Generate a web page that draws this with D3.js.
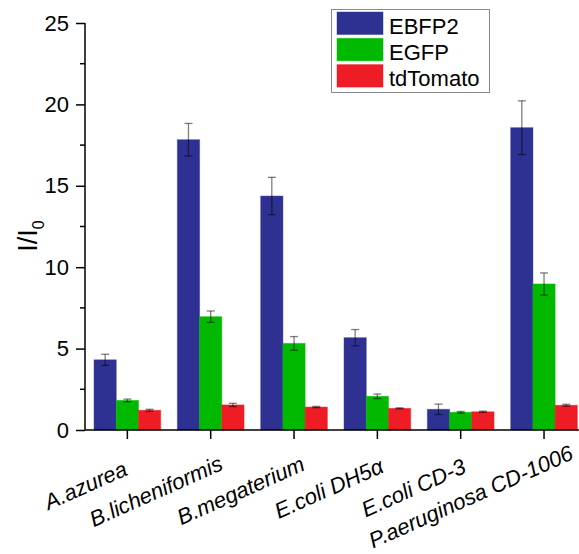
<!DOCTYPE html>
<html>
<head>
<meta charset="utf-8">
<script src="https://cdn.jsdelivr.net/npm/d3@7"></script>
<style>
  html, body { margin: 0; padding: 0; background: #fff; }
  svg { display: block; font-family: "Liberation Sans", Arial, sans-serif; }
</style>
</head>
<body>
<svg id="chart" width="579" height="554"></svg>
<script>
// Strains along the x axis
const strains = ["A.azurea", "B.licheniformis", "B.megaterium", "E.coli DH5\u03b1", "E.coli CD-3", "P.aeruginosa CD-1006"];
// Fluorescent proteins (series)
const proteins = ["EBFP2", "EGFP", "tdTomato"];
const proteinColors = ["#2e3192", "#00b900", "#ee1c25"];
// Mean I/I0 per strain, one array per protein
const ebfp2Values = [4.31, 17.83, 14.37, 5.67, 1.27, 18.57];
const egfpValues = [1.82, 6.96, 5.32, 2.07, 1.09, 8.97];
const tdTomatoValues = [1.21, 1.54, 1.41, 1.33, 1.12, 1.52];
// Standard deviations
const ebfp2Errors = [0.34, 1.0, 1.15, 0.5, 0.32, 1.65];
const egfpErrors = [0.08, 0.35, 0.42, 0.14, 0.05, 0.68];
const tdTomatoErrors = [0.06, 0.1, 0.04, 0.03, 0.04, 0.06];
// Y axis ticks
const yMajorTicks = [0, 5, 10, 15, 20, 25];
const yMinorTicks = [2.5, 7.5, 12.5, 17.5, 22.5];

const seriesValues = [ebfp2Values, egfpValues, tdTomatoValues];
const seriesErrors = [ebfp2Errors, egfpErrors, tdTomatoErrors];

const W = 579, H = 554;
const svg = d3.select("#chart");

const x = d3.scaleBand().domain(strains).range([85.7, 585.7]).paddingInner(0.2).paddingOuter(0.1);
const xSub = d3.scaleBand().domain(proteins).range([0, x.bandwidth()]).padding(0);
const y = d3.scaleLinear().domain([0, 25]).range([430, 23]);

const records = [];
strains.forEach((s, i) => {
  proteins.forEach((p, j) => {
    records.push({ strain: s, protein: p, color: proteinColors[j], value: seriesValues[j][i], err: seriesErrors[j][i] });
  });
});

// Bars
const barG = svg.append("g");
barG.selectAll("rect").data(records).join("rect")
  .attr("x", d => x(d.strain) + xSub(d.protein))
  .attr("y", d => y(d.value))
  .attr("width", xSub.bandwidth())
  .attr("height", d => y(0) - y(d.value))
  .attr("fill", d => d.color)
  .attr("stroke", d => d.color)
  .attr("stroke-opacity", 0.45)
  .attr("stroke-width", 1);

// Error bars
const errG = svg.append("g").attr("stroke", "#000").attr("stroke-opacity", 0.5).attr("stroke-width", 1.3);
const capHalf = 4;
records.forEach(d => {
  const cx = x(d.strain) + xSub(d.protein) + xSub.bandwidth() / 2;
  const y1 = y(d.value + d.err), y2 = y(d.value - d.err);
  errG.append("line").attr("x1", cx).attr("x2", cx).attr("y1", y1).attr("y2", y2);
  errG.append("line").attr("x1", cx - capHalf).attr("x2", cx + capHalf).attr("y1", y1).attr("y2", y1);
  errG.append("line").attr("x1", cx - capHalf).attr("x2", cx + capHalf).attr("y1", y2).attr("y2", y2);
});

// Y axis
const yAxis = svg.append("g").attr("transform", "translate(85,0)");
yAxis.call(d3.axisLeft(y).tickValues(yMajorTicks).tickSize(9).tickPadding(7).tickFormat(d3.format("d")));
yAxis.selectAll(".tick text").attr("font-size", 22).attr("fill", "#000").attr("font-family", "Liberation Sans, Arial, sans-serif");
yAxis.select(".domain").attr("d", `M0,${y(25)}V${y(0)}`);
yAxis.selectAll("path, line").attr("stroke", "#000").attr("stroke-width", 1.5);
yAxis.selectAll(".minor").data(yMinorTicks).join("line").attr("class", "minor")
  .attr("x1", -5).attr("x2", 0).attr("y1", d => y(d)).attr("y2", d => y(d))
  .attr("stroke", "#000").attr("stroke-width", 1.5);

// X axis
const xAxis = svg.append("g").attr("transform", `translate(0,${y(0)})`);
xAxis.call(d3.axisBottom(x).tickSize(9).tickSizeOuter(0).tickFormat(""));
xAxis.select(".domain").attr("d", `M85,0H${x.range()[1]}`);
xAxis.selectAll("path, line").attr("stroke", "#000").attr("stroke-width", 1.5);

// Rotated strain labels, kept inside the canvas
const angle = 24;
const rad = angle * Math.PI / 180;
const labelG = svg.append("g").attr("font-size", 22).attr("font-style", "italic").attr("fill", "#000");
strains.forEach(s => {
  const t = labelG.append("text").attr("text-anchor", "end").text(s);
  const L = t.node().getComputedTextLength();
  const k = 0.24 * L;
  let ex = x(s) + x.bandwidth() / 2 - 17.7 + k * Math.cos(rad);
  let ey = y(0) + 53 - k * Math.sin(rad);
  t.attr("transform", `translate(${ex},${ey}) rotate(${-angle})`);
  const box = t.node().getBoundingClientRect();
  const overX = box.right - (W - 1);
  const overY = box.bottom - (H - 1);
  if (overX > 0) ex -= overX;
  if (overY > 0) ey -= overY;
  t.attr("transform", `translate(${ex},${ey}) rotate(${-angle})`);
});

// Y axis title
const yTitle = svg.append("text")
  .attr("transform", "translate(37,236) rotate(-90)")
  .attr("text-anchor", "middle")
  .attr("font-size", 27).attr("fill", "#000");
yTitle.append("tspan").text("I/I");
yTitle.append("tspan").attr("font-size", 16).attr("dy", 7).text("0");

// Legend
const legend = svg.append("g");
legend.append("rect").attr("x", 331.5).attr("y", 9.5).attr("width", 158).attr("height", 83)
  .attr("fill", "#fff").attr("stroke", "#888").attr("stroke-width", 1);
proteins.forEach((p, i) => {
  const top = 12 + i * 26.3;
  legend.append("rect").attr("x", 337).attr("y", top).attr("width", 46).attr("height", 22.5)
    .attr("fill", proteinColors[i]).attr("stroke", proteinColors[i]).attr("stroke-opacity", 0.45);
  legend.append("text").attr("x", 389).attr("y", top + 21.5).attr("font-size", 22).attr("fill", "#000").text(p);
});
</script>
</body>
</html>
